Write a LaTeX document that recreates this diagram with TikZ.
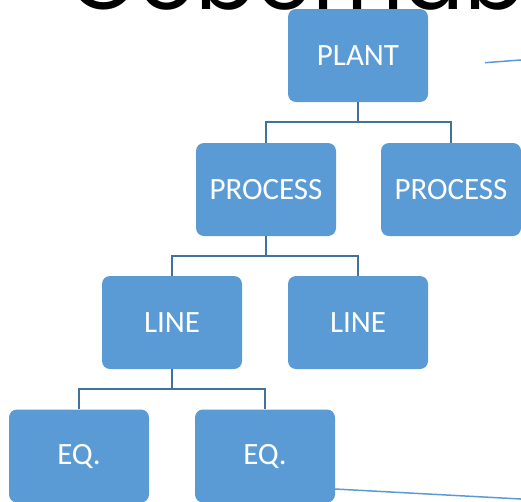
\documentclass[tikz,border=0pt]{standalone}
\usepackage{fontspec}
\usepackage{tikz}
\usepackage{xcolor}
\newfontfamily\boxfont{Carlito}
\newfontfamily\titlefont{Poppins}
\definecolor{boxblue}{HTML}{5B9BD5}
\definecolor{linkblue}{HTML}{41719C}

\begin{document}
\begin{tikzpicture}[x=1pt,y=-1pt,
		unit/.style={fill=boxblue, rounded corners=8pt, minimum width=140pt, minimum height=93pt, inner sep=0pt, text=white, font=\boxfont\fontsize{31}{31}\selectfont},
		link/.style={draw=linkblue, line width=2pt},
		tail/.style={draw=boxblue, line width=1.5pt}]
			\useasboundingbox (0,0) rectangle (521,501);
			\clip (0,0) rectangle (521,501);

			\node[anchor=base west, inner sep=0pt, font=\titlefont\fontsize{90}{90}\selectfont] (title) at (68,9){Gobernabilidad};

			\node[unit] (plant) at (358,55.5){PLANT};

			\node[unit] (proc1) at (266,189.5){PROCESS};
			\node[unit] (proc2) at (451,189.5){PROCESS};

			\node[unit] (line1) at (172,322.5){LINE};
			\node[unit] (line2) at (358,322.5){LINE};

			\node[unit] (eq1) at (79,456){EQ.};
			\node[unit] (eq2) at (265,456){EQ.};

			\foreach \p/\a/\b in {plant/proc1/proc2, proc1/line1/line2, line1/eq1/eq2}
			{
				\draw[link] (\p.south) -- ++(0,20) -| (\a.north);
				\draw[link] (\p.south) -- ++(0,20) -| (\b.north);
			}

			\coordinate (tailA) at (485,62.7);
			\coordinate (tailAend) at (530,59.3);
			\coordinate (tailB) at (335,489);
			\coordinate (tailBend) at (530,499.5);
			\draw[tail] (tailA) -- (tailAend);
			\draw[tail] (tailB) -- (tailBend);
		\end{tikzpicture}
\end{document}
